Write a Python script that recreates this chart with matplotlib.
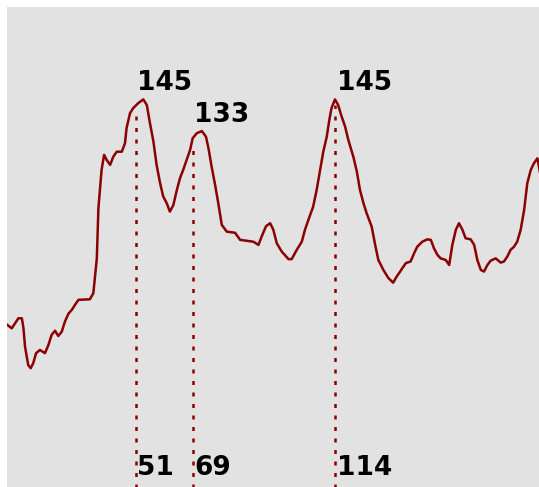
import matplotlib
matplotlib.use("Agg")
import matplotlib.pyplot as plt
import numpy as np

# curve (x = sample index, y = value)
xs = [10.4, 11.8, 13.9, 15.0, 15.5, 16.0, 17.0, 17.8, 18.6, 19.5, 20.7, 22.3, 23.4, 24.4,
      25.5, 26.5, 27.6, 28.6, 29.7, 30.8, 31.8, 32.9, 36.5, 37.6, 38.7, 39.2, 40.2, 41.0,
      41.8, 42.9, 43.9, 45.0, 46.6, 47.6, 48.1, 49.2, 50.2, 51.8, 53.4, 54.5, 55.5, 56.6,
      57.6, 58.7, 59.7, 60.8, 61.8, 62.9, 64.0, 65.0, 66.0, 67.1, 68.2, 69.0, 70.3, 71.9,
      73.2, 74.0, 75.0, 76.1, 77.1, 78.2, 79.8, 82.4, 84.0, 88.2, 89.8, 90.8, 92.2, 93.5,
      94.5, 95.6, 97.2, 99.3, 100.3, 101.9, 103.5, 104.5, 105.6, 107.1, 108.2, 109.3,
      110.3, 111.4, 112.2, 112.9, 114.0, 115.0, 116.1, 117.2, 118.2, 119.8, 120.9, 121.9,
      123.0, 124.0, 125.6, 126.7, 127.7, 129.3, 130.9, 132.4, 133.5, 134.6, 135.3, 136.4,
      137.9, 139.0, 140.0, 141.6, 143.2, 144.3, 145.3, 146.4, 147.4, 149.0, 150.1, 151.1,
      152.2, 153.2, 154.3, 155.3, 156.9, 158.0, 159.0, 160.1, 161.1, 162.2, 163.2, 164.8,
      166.4, 167.4, 168.5, 169.5, 170.6, 171.6, 172.7, 173.8, 174.8, 175.9, 176.9, 178.0,
      178.8]
ys = [59.6, 58.3, 62.1, 62.1, 58.4, 51.4, 44.4, 43.2, 45.1, 48.9, 50.1, 48.9, 52.0, 55.8,
      57.4, 55.4, 57.0, 60.8, 63.8, 65.3, 67.2, 69.1, 69.3, 71.6, 84.8, 103.8, 118.3, 124.0,
      122.1, 120.2, 123.3, 125.2, 125.2, 128.4, 134.1, 139.8, 141.7, 143.6, 145.0, 142.9,
      136.0, 129.0, 120.2, 113.3, 108.2, 105.7, 102.5, 105.0, 110.7, 115.2, 118.3, 122.1,
      125.9, 130.3, 132.2, 133.0, 130.9, 126.5, 119.5, 112.6, 105.7, 97.5, 94.9, 94.5,
      91.8, 91.1, 89.9, 93.0, 97.0, 98.1, 95.6, 90.5, 87.3, 84.5, 84.5, 88.0, 91.1, 95.6,
      99.4, 104.4, 110.7, 118.3, 125.2, 130.9, 137.2, 141.7, 145.0, 142.9, 138.5, 134.7,
      129.7, 123.3, 117.7, 110.7, 105.7, 101.9, 96.8, 89.9, 84.2, 80.4, 77.3, 75.6, 77.9,
      79.8, 81.1, 83.0, 83.6, 86.7, 89.2, 91.1, 92.0, 91.8, 88.6, 86.1, 84.8, 84.2, 82.3,
      89.9, 95.6, 98.1, 95.6, 92.4, 92.0, 89.9, 84.2, 80.4, 79.8, 82.3, 83.9, 84.8, 83.2,
      83.6, 85.5, 88.0, 89.2, 91.1, 95.6, 103.1, 113.3, 118.3, 120.8, 122.7, 117.5]

# marked peaks
peak_x = [51, 69, 114]
peak_val = [145, 133, 145]

red = "#8b0000"

fig = plt.figure(figsize=(5.39, 4.87), dpi=100)
ax = fig.add_axes([7 / 539, 0, 532 / 539, 480 / 487])
ax.set_facecolor("#e2e2e2")
ax.plot(xs, ys, color=red, lw=1.8)

# dotted drop lines from the curve down to the bottom
tops = np.interp(peak_x, xs, ys) - 2
ax.vlines(peak_x, -2, tops, colors=red, lw=1.8, linestyles=(0, (1.6, 3.0)))

for px, pv in zip(peak_x, peak_val):
    ax.text(px + 0.5, pv + 3.6, str(pv), ha="left", va="baseline",
            fontsize=19, fontweight="bold", color="black")
    ax.text(px + 0.5, 2.8, str(px), ha="left", va="baseline",
            fontsize=19, fontweight="bold", color="black")

ax.set_xlim(10.3, 178.5)
ax.set_ylim(-1.8, 180)
ax.set_xticks([])
ax.set_yticks([])
for s in ax.spines.values():
    s.set_visible(False)

fig.savefig("out.png", dpi=100)
